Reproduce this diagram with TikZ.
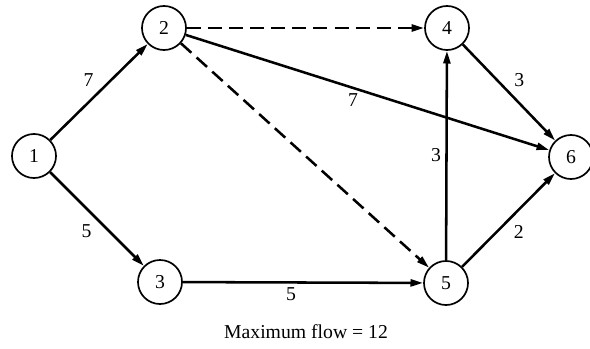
\documentclass[tikz,border=0pt]{standalone}
\usepackage{fontspec}
\setmainfont{Liberation Serif}
\usetikzlibrary{arrows.meta}
\begin{document}
\begin{tikzpicture}[x=0.025cm,y=-0.025cm,
  every node/.style={font=\fontsize{14}{16}\selectfont},
  vertex/.style={draw,circle,line width=1.2pt,minimum size=1.1cm,inner sep=0pt},
  flow/.style={line width=1.8pt,-{Triangle[length=9pt,width=5pt]}},
  unused/.style={flow,dash pattern=on 10pt off 5pt},
  lbl/.style={inner sep=3pt}]
\useasboundingbox (0,0) rectangle (590,348);
\node[vertex] (n1) at (34,156) {1};
\node[vertex] (n2) at (164,28) {2};
\node[vertex] (n3) at (160,282) {3};
\node[vertex] (n4) at (447,28) {4};
\node[vertex] (n5) at (446,283) {5};
\node[vertex] (n6) at (571,157) {6};
\draw[flow] (n1) -- node[lbl,above left] {7} (n2);
\draw[flow] (n1) -- node[lbl,below left] {5} (n3);
\draw[flow] (n3) -- node[lbl,below,pos=0.45] {5} (n5);
\draw[unused] (n2) -- (n4);
\draw[unused] (n2) -- (n5);
\draw[flow] (n2) -- node[lbl,below,pos=0.46] {7} (n6);
\draw[flow] (n5) -- node[lbl,left] {3} (n4);
\draw[flow] (n4) -- node[lbl,above right] {3} (n6);
\draw[flow] (n5) -- node[lbl,below right] {2} (n6);
\node (cap) at (306,332) {Maximum flow = 12};
\end{tikzpicture}
\end{document}
